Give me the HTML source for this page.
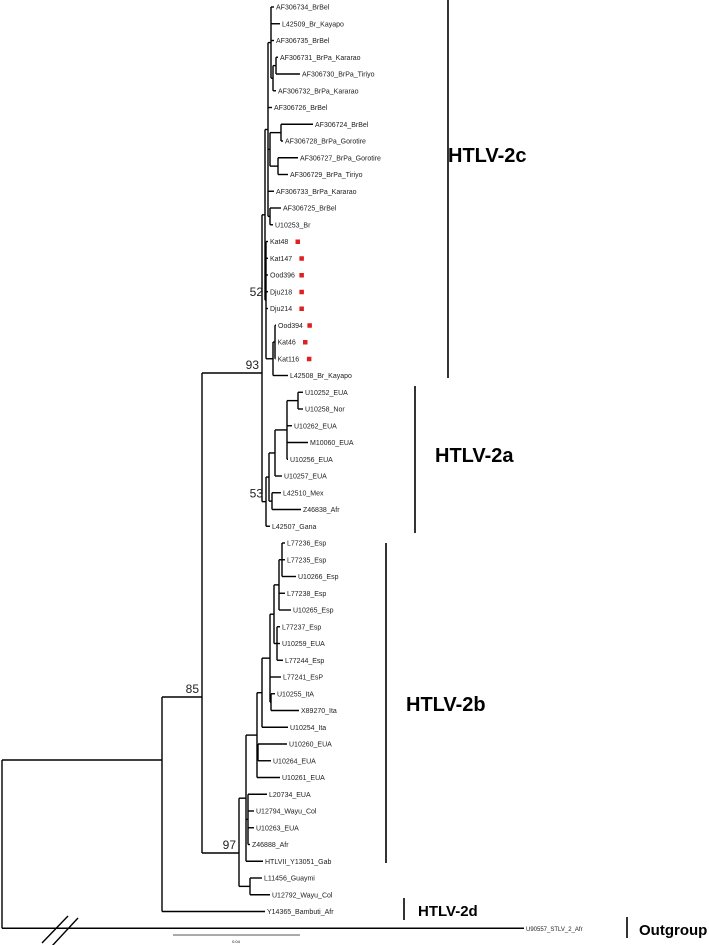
<!DOCTYPE html>
<html><head><meta charset="utf-8"><style>
html,body{margin:0;padding:0;background:#fff;}
svg{display:block;font-family:"Liberation Sans",Arial,sans-serif;}
</style></head><body>
<svg id="tree" width="709" height="945" viewBox="0 0 709 945" xmlns="http://www.w3.org/2000/svg">
<g id="marks"></g>
</svg>
<script>
// Tree data: [name, branchLength (scaled units, 127 units = 0.04), children]
const SUPPORT = {N52:"52", C:"93", Q53:"53", B:"85", N97:"97"};
const MARKED = ["Kat48","Kat147","Ood396","Dju218","Dju214","Ood394","Kat46","Kat116"];
const NODE_Y = {A:760, B:697, C:373, N97:853};
const tree = ["root",0,[
  ["A",160,[
    ["B",40,[
      ["C",60,[
        ["D",3,[
          ["T",3,[
            ["G1",3,[["AF306734_BrBel",3],["L42509_Br_Kayapo",9],["AF306735_BrBel",3],
              ["H",2,[["I",3,[["AF306731_BrPa_Kararao",2],["AF306730_BrPa_Tiriyo",24]]],["AF306732_BrPa_Kararao",3]]]]],
            ["AF306726_BrBel",4],
            ["J",2,[["K",11,[["AF306724_BrBel",32],["AF306728_BrPa_Gorotire",2]]],["L",8,[["AF306727_BrPa_Gorotire",20],["AF306729_BrPa_Tiriyo",10]]]]],
            ["AF306733_BrPa_Kararao",6],
            ["M",2,[["AF306725_BrBel",11],["U10253_Br",3]]]]],
          ["N52",1,[["Kat48",2],["Kat147",2],["Ood396",2],["Dju218",2],["Dju214",2],
            ["O",7,[["P",2,[["Ood394",1],["Kat46",0.5],["Kat116",0.5]]],["L42508_Br_Kayapo",15]]]]]]],
        ["Q53",4,[
          ["R",3,[
            ["S",6,[
              ["U",12,[["V",11,[["U10252_EUA",5],["U10258_Nor",5]]],["U10262_EUA",5],["M10060_EUA",21],["U10256_EUA",1]]],
              ["U10257_EUA",7]]],
            ["W",3,[["L42510_Mex",9],["Z46838_Afr",29]]]]],
          ["L42507_Gana",4]]]]],
      ["N97",37,[
        ["X",7,[
          ["Y",11,[
            ["Y1",5,[
              ["Y2",8,[
                ["Y3",4,[
                  ["Y4",5,[["Y5",3,[["L77236_Esp",3],["L77235_Esp",3],["U10266_Esp",14]]],["L77238_Esp",6],["U10265_Esp",12]]],
                  ["Y6",3,[["L77237_Esp",3],["U10259_EUA",3],["L77244_Esp",6]]]]],
                ["L77241_EsP",11],
                ["Y7",1,[["U10255_ItA",4],["X89270_Ita",28]]]]],
              ["U10254_Ita",26]]],
            ["Y8",1,[["U10260_EUA",29],["U10264_EUA",13]]],
            ["U10261_EUA",23]]],
          ["Y9",2,[["L20734_EUA",19],["U12794_Wayu_Col",6],["U10263_EUA",6],["Z46888_Afr",2]]],
          ["HTLVII_Y13051_Gab",17]]],
        ["Z2",11,[["L11456_Guaymi",12],["U12792_Wayu_Col",20]]]]]]],
    ["Y14365_Bambuti_Afr",103]]],
  ["U90557_STLV_2_Afr",522]]];

const ROOT_X = 2, TOP_Y = 7, ROW = 16.75;
const svgNS = "http://www.w3.org/2000/svg";
const g = document.getElementById("marks");
let leafIdx = 0;
function mk(tag, attrs){const e=document.createElementNS(svgNS,tag);for(const k in attrs)e.setAttribute(k,attrs[k]);g.appendChild(e);return e;}
function layout(node, px){
  const [name,len,kids] = node;
  const x = px + len;
  if(!kids){ node.y = TOP_Y + ROW*(leafIdx++); node.x=x; return; }
  kids.forEach(k=>layout(k,x));
  node.x = x;
  node.y = NODE_Y[name]!==undefined ? NODE_Y[name] : (kids[0].y + kids[kids.length-1].y)/2;
}
layout(tree, ROOT_X);
function draw(node, px){
  const [name,len,kids] = node;
  const isOut = name.startsWith("U90557");
  if(node !== tree){
    const h = mk("line",{x1:px,y1:node.y,x2:node.x,y2:node.y,stroke:"#000","stroke-width":1.4});
    
    
  }
  if(kids){
    const v = mk("line",{x1:node.x,y1:Math.min(node.y,kids[0].y),x2:node.x,y2:Math.max(node.y,kids[kids.length-1].y),stroke:"#000","stroke-width":1.4});
    
    
    kids.forEach(k=>draw(k,node.x));
    if(SUPPORT[name]){
      const t = mk("text",{x:node.x-3,y:node.y-4,"font-size":12,"text-anchor":"end",fill:"#222"});
      t.textContent = SUPPORT[name];
      
      
    }
  } else {
    const t = mk("text",{x:node.x+2,y:node.y+2.5,"font-size":isOut?6:7,fill:"#222"});
    t.textContent = name;
    
    
    if(MARKED.includes(name)){
      const w = name.length*3.9;
      const r = mk("rect",{x:node.x+2+w+6,y:node.y-2,width:4.5,height:4.5,fill:"#e02020"});
      
      
    }
  }
}
draw(tree, ROOT_X);
</script>
<svg style="position:absolute;left:0;top:0" width="709" height="945" xmlns="http://www.w3.org/2000/svg" font-family="Liberation Sans, Arial, sans-serif">
  <g stroke="#000" stroke-width="1.4">
    <line x1="42" y1="943" x2="68" y2="916"/><line x1="52" y1="946" x2="78" y2="918"/>
  </g>
  <g>
    <line x1="173" y1="935" x2="300" y2="935" stroke="#555" stroke-width="1"/>
    <text x="236" y="943" font-size="4" text-anchor="middle">0.04</text>
  </g>
  <g>
    <line x1="448" y1="0" x2="448" y2="378" stroke="#000" stroke-width="1.6"/>
    <text x="448" y="162" font-size="20" font-weight="bold">HTLV-2c</text>
  </g>
  <g>
    <line x1="415" y1="386" x2="415" y2="533" stroke="#000" stroke-width="1.6"/>
    <text x="435" y="462" font-size="20" font-weight="bold">HTLV-2a</text>
  </g>
  <g>
    <line x1="386" y1="543" x2="386" y2="863" stroke="#000" stroke-width="1.6"/>
    <text x="406" y="711" font-size="20" font-weight="bold">HTLV-2b</text>
  </g>
  <g>
    <line x1="404" y1="898" x2="404" y2="920" stroke="#000" stroke-width="1.6"/>
    <text x="418" y="916" font-size="15" font-weight="bold">HTLV-2d</text>
  </g>
  <g>
    <line x1="627" y1="917" x2="627" y2="938" stroke="#000" stroke-width="1.6"/>
    <text x="639" y="935" font-size="15" font-weight="bold">Outgroup</text>
  </g>
</svg>
</body></html>
